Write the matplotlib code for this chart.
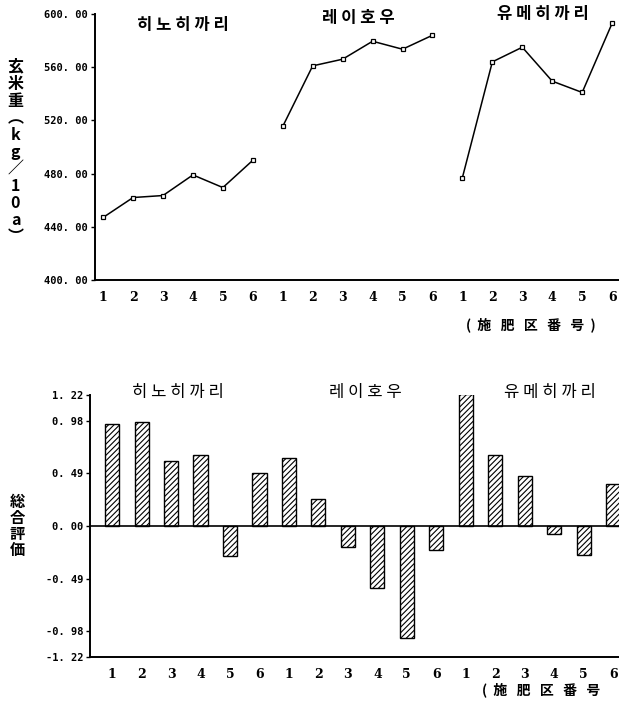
import matplotlib
matplotlib.use("Agg")
import matplotlib.pyplot as plt
import numpy as np

plt.rcParams['font.family'] = ['Noto Sans CJK KR', 'Noto Sans CJK JP', 'DejaVu Sans']
plt.rcParams['hatch.linewidth'] = 0.8

# Varieties and plot numbers
varieties = ["히노히까리", "레이호우", "유메히까리"]
plot_labels = ["1", "2", "3", "4", "5", "6"]

# Brown rice yield (kg/10a), per variety
yield_hino = [447, 462, 463.5, 479, 469.5, 490]
yield_reihou = [515.5, 561, 566, 579.5, 573.5, 584]
yield_yume = [477, 564, 575, 549.5, 541, 593]

# Overall evaluation score
score_hino = [0.95, 0.97, 0.61, 0.66, -0.28, 0.49]
score_reihou = [0.63, 0.25, -0.20, -0.58, -1.04, -0.22]
score_yume = [1.23, 0.66, 0.47, -0.07, -0.27, 0.39]

top_ticks = [400, 440, 480, 520, 560, 600]
bottom_ticks = [-1.22, -0.98, -0.49, 0.00, 0.49, 0.98, 1.22]

tick_font = dict(family='DejaVu Sans Mono', fontsize=7.5, fontweight='bold')
cjk = ['Noto Sans CJK JP', 'DejaVu Sans']


def spaced(s):
    return " ".join(s)


def fmt(v):
    return f"{v:.2f}".replace(".", ". ")


fig = plt.figure(figsize=(6.19, 7.06), dpi=100)

# ---- top: yield line chart
ax1 = fig.add_axes([0.1535, 0.6034, 0.8465, 0.3768])
for k, ys in enumerate([yield_hino, yield_reihou, yield_yume]):
    xs = np.arange(1, 7) + 6 * k
    ax1.plot(xs, ys, color='black', lw=1.1, marker='s', ms=3.2,
             mfc='white', mec='black', mew=0.9)
ax1.set_xlim(0.73, 18.23)
ax1.set_ylim(400, 600)
ax1.set_yticks(top_ticks)
ax1.set_yticklabels([fmt(v) for v in top_ticks], **tick_font)
ax1.set_xticks(np.arange(1, 19))
ax1.set_xticklabels(plot_labels * 3, family='DejaVu Serif', fontsize=9, fontweight='bold')
ax1.tick_params(axis='x', length=0, pad=8)
ax1.tick_params(axis='y', length=3, width=1, pad=2)
for s in ['top', 'right']:
    ax1.spines[s].set_visible(False)
ax1.spines['left'].set_linewidth(1.4)
ax1.spines['bottom'].set_linewidth(1.4)

for name, tx, ty in zip(varieties, [3.67, 9.52, 15.7], [591.5, 597, 600]):
    ax1.text(tx, ty, spaced(name), ha='center', va='center', fontsize=12, fontweight='bold')

fig.text(0.025, 0.785, "玄\n米\n重\n︵\nk\ng\n／\n1\n0\na\n︶", ha='center', va='center',
         fontsize=11.5, fontweight='bold', linespacing=1.08, family=cjk)
fig.text(0.857, 0.54, "(  施   肥   区   番   号  )", ha='center', va='center',
         fontsize=10, fontweight='bold', family=cjk)

# ---- bottom: overall evaluation bar chart
ax2 = fig.add_axes([0.1454, 0.0694, 0.8546, 0.3711])
for k, vals in enumerate([score_hino, score_reihou, score_yume]):
    xs = np.arange(1, 7) + 6 * k
    ax2.bar(xs, vals, width=0.48, color='white', edgecolor='black', lw=1.0, hatch='//////')
ax2.axhline(0, color='black', lw=1.2)
ax2.set_xlim(0.25, 18.2)
ax2.set_ylim(-1.22, 1.22)
ax2.set_yticks(bottom_ticks)
ax2.set_yticklabels([fmt(v) for v in bottom_ticks], **tick_font)
ax2.set_xticks(np.arange(1, 19))
ax2.set_xticklabels(plot_labels * 3, family='DejaVu Serif', fontsize=9, fontweight='bold')
ax2.tick_params(axis='x', length=0, pad=8)
ax2.tick_params(axis='y', length=3, width=1, pad=2)
for s in ['top', 'right']:
    ax2.spines[s].set_visible(False)
ax2.spines['left'].set_linewidth(1.4)
ax2.spines['bottom'].set_linewidth(1.4)

for name, px in zip(varieties, [178, 365, 550]):
    fig.text(px / 619, 1 - 393 / 706, spaced(name), ha='center', va='center', fontsize=12)

fig.text(0.028, 0.255, "総\n合\n評\n価", ha='center', va='center',
         fontsize=11, fontweight='bold', linespacing=1.0, family=cjk)
fig.text(0.875, 1 - 690 / 706, "(  施   肥   区   番   号", ha='center', va='center',
         fontsize=10, fontweight='bold', family=cjk)

fig.savefig("out.png", dpi=100)
